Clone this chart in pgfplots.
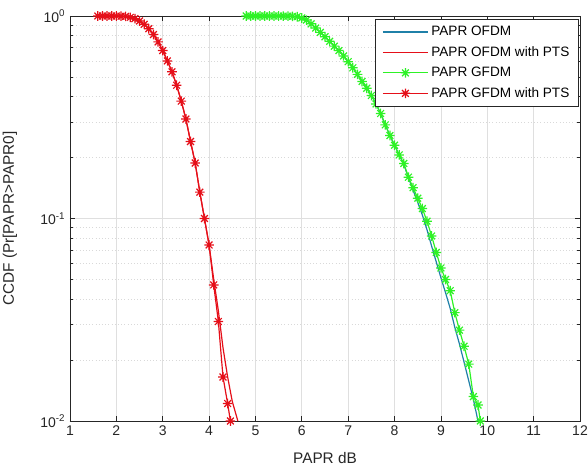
\documentclass[border=0pt]{standalone}
\usepackage{fontspec}
\setmainfont{Liberation Sans}
\usepackage{pgfplots}
\pgfplotsset{compat=1.18}
\usetikzlibrary{calc}

\definecolor{cblue}{rgb}{0.12,0.50,0.66}
\definecolor{cred}{rgb}{0.90,0.06,0.10}
\definecolor{cgreen}{rgb}{0.18,0.95,0.15}
\definecolor{axgray}{rgb}{0.15,0.15,0.15}

% MATLAB-style '*' marker: + and x on top of each other
\pgfdeclareplotmark{mstar}{%
  \pgfpathmoveto{\pgfqpoint{-\pgfplotmarksize}{0pt}}%
  \pgfpathlineto{\pgfqpoint{\pgfplotmarksize}{0pt}}%
  \pgfpathmoveto{\pgfqpoint{0pt}{-\pgfplotmarksize}}%
  \pgfpathlineto{\pgfqpoint{0pt}{\pgfplotmarksize}}%
  \pgfpathmoveto{\pgfqpoint{-0.707\pgfplotmarksize}{-0.707\pgfplotmarksize}}%
  \pgfpathlineto{\pgfqpoint{0.707\pgfplotmarksize}{0.707\pgfplotmarksize}}%
  \pgfpathmoveto{\pgfqpoint{-0.707\pgfplotmarksize}{0.707\pgfplotmarksize}}%
  \pgfpathlineto{\pgfqpoint{0.707\pgfplotmarksize}{-0.707\pgfplotmarksize}}%
  \pgfusepathqstroke}

\pgfplotstableread{
x y
4.8 1.0
4.9 1.0
5.0 1.0
5.1 1.0
5.2 1.0
5.3 1.0
5.4 1.0
5.5 1.0
5.6 0.999
5.7 0.998
5.8 0.996
5.9 0.992
6.0 0.978
6.1 0.955
6.2 0.915
6.3 0.872
6.4 0.830
6.5 0.790
6.6 0.750
6.7 0.710
6.8 0.675
6.9 0.635
7.0 0.595
7.1 0.555
7.2 0.515
7.3 0.475
7.4 0.440
7.5 0.405
7.6 0.368
7.7 0.330
7.8 0.290
7.9 0.257
8.0 0.230
8.1 0.206
8.2 0.185
8.3 0.159
8.4 0.138
8.5 0.120
8.6 0.104
8.7 0.088
8.8 0.073
8.9 0.061
9.0 0.051
9.1 0.043
9.2 0.036
9.3 0.029
9.4 0.0240
9.5 0.0195
9.6 0.0158
9.7 0.0128
9.8 0.0100
}\ofdm

\pgfplotstableread{
x y
1.6 1.0
1.7 1.0
1.8 1.0
1.9 1.0
2.0 1.0
2.1 0.998
2.2 0.995
2.3 0.985
2.4 0.970
2.5 0.945
2.6 0.910
2.7 0.865
2.8 0.810
2.9 0.745
3.0 0.675
3.1 0.600
3.2 0.530
3.3 0.455
3.4 0.380
3.5 0.310
3.6 0.240
3.7 0.188
3.8 0.135
3.9 0.100
4.0 0.074
4.1 0.050
4.2 0.035
4.3 0.023
4.4 0.0165
4.5 0.0125
4.62 0.0100
}\ofdmpts

\pgfplotstableread{
x y
4.8 1.0
4.9 1.0
5.0 1.0
5.1 1.0
5.2 1.0
5.3 1.0
5.4 1.0
5.5 1.0
5.6 0.999
5.7 0.998
5.8 0.996
5.9 0.992
6.0 0.978
6.1 0.955
6.2 0.915
6.3 0.872
6.4 0.830
6.5 0.790
6.6 0.750
6.7 0.710
6.8 0.675
6.9 0.635
7.0 0.595
7.1 0.555
7.2 0.515
7.3 0.475
7.4 0.440
7.5 0.405
7.6 0.368
7.7 0.330
7.8 0.290
7.9 0.257
8.0 0.230
8.1 0.206
8.2 0.187
8.3 0.160
8.4 0.142
8.5 0.126
8.6 0.112
8.7 0.097
8.8 0.082
8.9 0.068
9.0 0.057
9.1 0.050
9.2 0.044
9.3 0.0343
9.4 0.0281
9.5 0.0234
9.6 0.0191
9.7 0.0132
9.8 0.0120
9.85 0.0100
}\gfdm

\pgfplotstableread{
x y
1.6 1.0
1.7 1.0
1.8 1.0
1.9 1.0
2.0 1.0
2.1 0.998
2.2 0.995
2.3 0.985
2.4 0.970
2.5 0.945
2.6 0.910
2.7 0.865
2.8 0.810
2.9 0.745
3.0 0.675
3.1 0.600
3.2 0.530
3.3 0.455
3.4 0.380
3.5 0.310
3.6 0.240
3.7 0.188
3.8 0.135
3.9 0.100
4.0 0.074
4.1 0.047
4.2 0.031
4.3 0.0165
4.4 0.0122
4.46 0.0100
}\gfdmpts

\begin{document}
\begin{tikzpicture}
\begin{axis}[
    name=main,
    scale only axis,
    width=382.5pt, height=303.75pt,
    xmin=1, xmax=12,
    ymin=0.01, ymax=1,
    ymode=log,
    xtick={1,2,...,12},
    ytick={0.01,0.1,1},
    yticklabels={10\textsuperscript{-2},10\textsuperscript{-1},10\textsuperscript{0}},
    /pgf/number format/assume math mode=true,
    tick label style={font=\fontsize{10.5}{12}\selectfont, text=axgray},
    xlabel={PAPR dB},
    ylabel={CCDF (Pr[PAPR>PAPR0]},
    label style={font=\fontsize{11.5}{13}\selectfont, text=axgray},
    xlabel style={at={(axis description cs:0.5,-0.0914)}, anchor=center},
    ylabel style={at={(axis description cs:-0.1176,0.5)}, anchor=center},
    axis line style={axgray, line width=0.6pt},
    tick style={axgray, line width=0.5pt},
    tick align=inside,
    major tick length=4pt,
    minor tick length=2.5pt,
    xmajorgrids, ymajorgrids, yminorgrids,
    major grid style={gray!25, line width=0.5pt},
    minor grid style={gray!30, dotted, line width=0.5pt},
    legend cell align=left,
    legend style={at={(0.998,0.992)}, anchor=north east,
        font=\fontsize{10.2}{11.5}\selectfont, draw=axgray,
        row sep=2.6pt, inner xsep=5pt, inner ysep=3pt},
    legend image code/.code={\draw[mark repeat=2, mark phase=2]
        plot coordinates {(0pt,0pt) (17pt,0pt) (34pt,0pt)};},
]
\addplot[cblue, line width=0.9pt] table[x=x, y=y] {\ofdm};
\addlegendentry{PAPR OFDM}
\addplot[cred, line width=0.9pt] table[x=x, y=y] {\ofdmpts};
\addlegendentry{PAPR OFDM with PTS}
\addplot[cgreen, line width=0.9pt, mark=mstar, mark size=3.6pt] table[x=x, y=y] {\gfdm};
\addlegendentry{PAPR GFDM}
\addplot[cred, line width=0.9pt, mark=mstar, mark size=3.6pt] table[x=x, y=y] {\gfdmpts};
\addlegendentry{PAPR GFDM with PTS}
\end{axis}
\pgfresetboundingbox
\path ($(main.south west)+(-52.5pt,-37.5pt)$) rectangle ($(main.north east)+(6pt,12pt)$);
\end{tikzpicture}
\end{document}
